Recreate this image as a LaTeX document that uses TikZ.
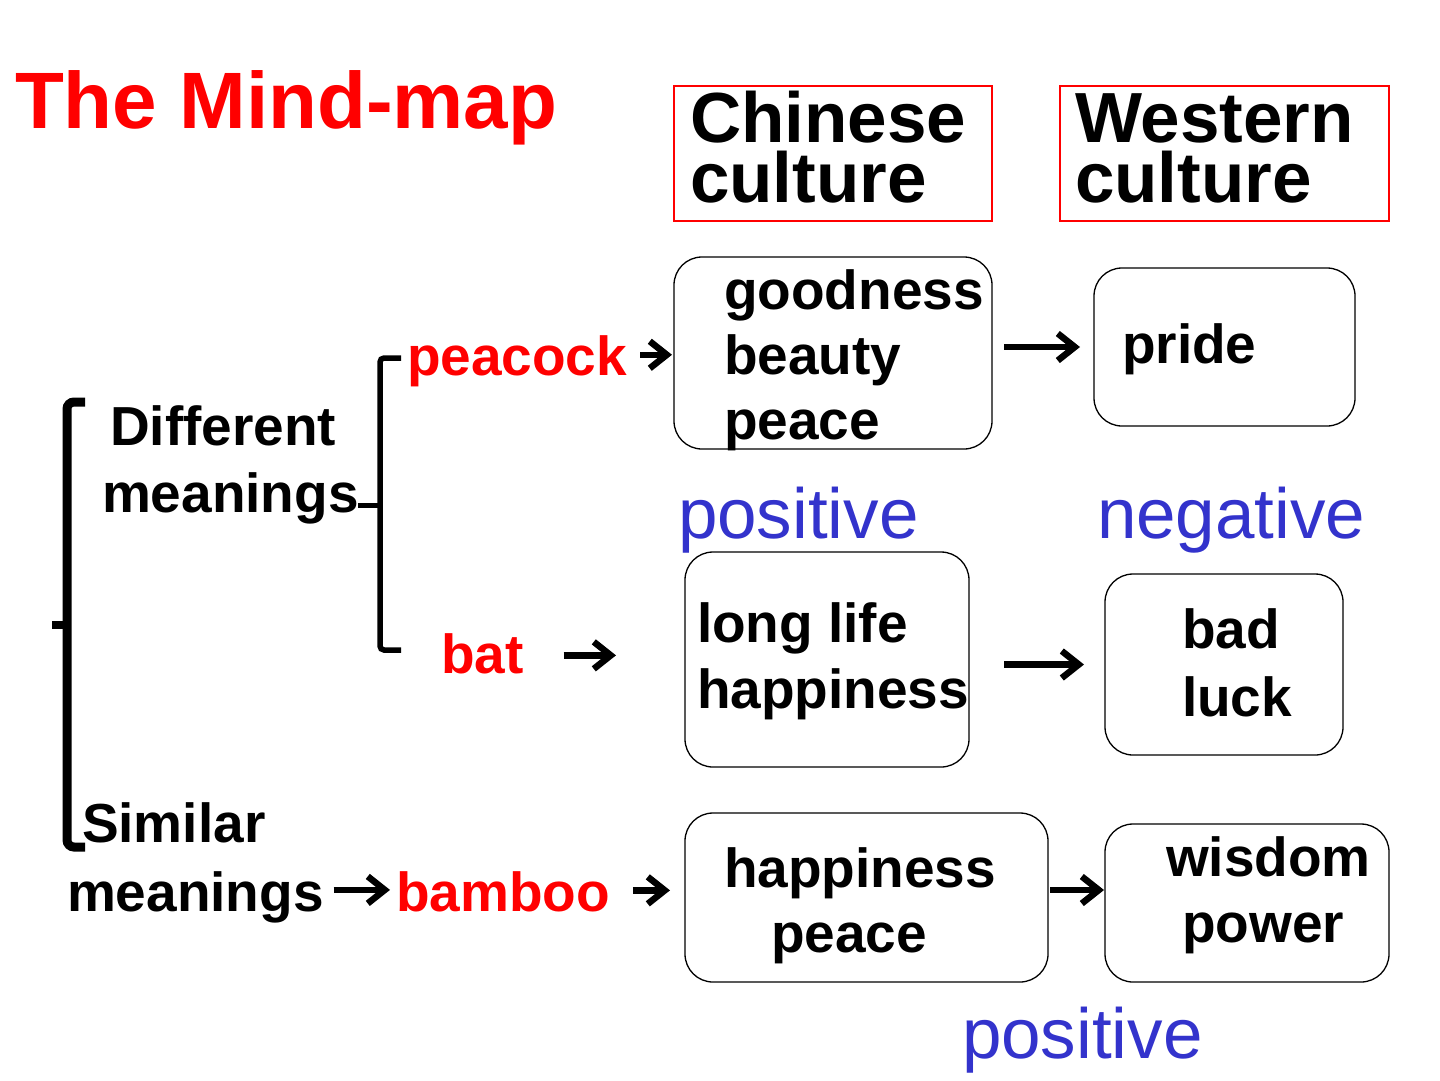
\documentclass[tikz,border=0pt]{standalone}
\usepackage{fontspec}
\setmainfont{Liberation Sans}
\usetikzlibrary{arrows.meta,calc}
\definecolor{mblue}{RGB}{51,51,204}
\definecolor{mred}{RGB}{255,0,0}
\begin{document}
\begin{tikzpicture}[x=1pt,y=-1pt,
  txt/.style={inner sep=0pt, outer sep=0pt, anchor=base west, font=\fontsize{55}{66}\selectfont\bfseries},
  redtxt/.style={txt, text=mred},
  head/.style={inner sep=0pt, outer sep=0pt, anchor=base west, align=left, font=\fontsize{71}{60}\selectfont\bfseries},
  bluetxt/.style={inner sep=0pt, outer sep=0pt, anchor=base west, text=mblue, font=\fontsize{71}{80}\selectfont},
  rbox/.style={draw, rectangle, rounded corners=28pt, line width=1.3pt, inner sep=0pt, outer sep=0pt},
  hbox/.style={draw=mred, rectangle, line width=1.3pt, inner sep=0pt, outer sep=0pt},
  arr/.style={line width=6.5pt, -{Straight Barb[length=17pt,width=27pt]}},
  brace/.style={line width=9pt, rounded corners=7pt},
  sbrace/.style={line width=5.5pt, rounded corners=4pt}
]
\useasboundingbox (0,0) rectangle (1440,1080);

% title
\node[inner sep=0pt, outer sep=0pt, anchor=base west, text=mred, font=\fontsize{80}{90}\selectfont\bfseries] (title) at (15,128) {The Mind-map};

% header boxes
\node[hbox, minimum width=318pt, minimum height=135pt] (chbox) at (833,153.5) {};
\node[hbox, minimum width=329pt, minimum height=135pt] (wbox) at (1224.5,153.5) {};
\node[head] (ch) at (690,202) {Chinese\\culture};
\node[head] (we) at (1075,202) {Western\\culture};

% rounded boxes
\node[rbox, minimum width=318pt, minimum height=192pt] (b1) at (833,353) {};
\node[rbox, minimum width=261pt, minimum height=158pt] (b2) at (1224.5,347) {};
\node[rbox, minimum width=284pt, minimum height=215pt] (b3) at (827,659.5) {};
\node[rbox, minimum width=238pt, minimum height=181pt] (b4) at (1224,664.5) {};
\node[rbox, minimum width=363pt, minimum height=169pt] (b5) at (866.5,897.5) {};
\node[rbox, minimum width=284pt, minimum height=158pt] (b6) at (1247,903) {};

% box texts
\node[txt] (t1a) at (724,309) {goodness};
\node[txt] (t1b) at (724,374) {beauty};
\node[txt] (t1c) at (724,439) {peace};
\node[txt] (t2) at (1122,363) {pride};
\node[txt] (t3a) at (697,642) {long life};
\node[txt] (t3b) at (697,708) {happiness};
\node[txt] (t4a) at (1182,648) {bad};
\node[txt] (t4b) at (1182,716) {luck};
\node[txt] (t5a) at (724,887) {happiness};
\node[txt] (t5b) at (771,952) {peace};
\node[txt] (t6a) at (1166,876) {wisdom};
\node[txt] (t6b) at (1182,942) {power};

% blue labels
\node[bluetxt] (pos1) at (678,538) {positive};
\node[bluetxt] (neg1) at (1097,538) {negative};
\node[bluetxt] (pos2) at (962,1058) {positive};

% left side
\node[txt] (dm1) at (110,445) {Different};
\node[txt] (dm2) at (102,512) {meanings};
\node[txt] (sm1) at (82,842) {Similar};
\node[txt] (sm2) at (67,911) {meanings};
\node[redtxt] (peacock) at (407,375) {peacock};
\node[redtxt] (bat) at (441,673) {bat};
\node[redtxt] (bamboo) at (396,911) {bamboo};

% brackets
\draw[brace] (85,402) -- (67,402) -- (67,847) -- (85,847);
\draw[line width=8pt] (52,625) -- (67,625);
\draw[sbrace] (401,358) -- (380,358) -- (380,650) -- (401,650);
\draw[line width=5pt] (358,505) -- (380,505);

% arrows
\draw[arr] ($(peacock.east)+(13,-6)$) -- ($(peacock.east -| b1.west)+(-2,-6)$);
\draw[arr] ($(b1.east |- b2.west)+(12,0)$) -- ($(b2.west)+(-14,0)$);
\draw[arr] ($(bat.east)+(40,2)$) -- ($(bat.east -| b3.west)+(-69,2)$);
\draw[arr] ($(b3.east |- b4.west)+(35,0)$) -- ($(b4.west)+(-21,0)$);
\draw[arr] ($(sm2.east)+(10,-7)$) -- ($(sm2.east -| bamboo.west)+(-6,-7)$);
\draw[arr] ($(bamboo.east)+(23,-1)$) -- ($(bamboo.east -| b5.west)+(-15,-1)$);
\draw[arr] ($(b5.east)+(2,-7.5)$) -- ($(b5.east -| b6.west)+(-1,-7.5)$);
\end{tikzpicture}
\end{document}
